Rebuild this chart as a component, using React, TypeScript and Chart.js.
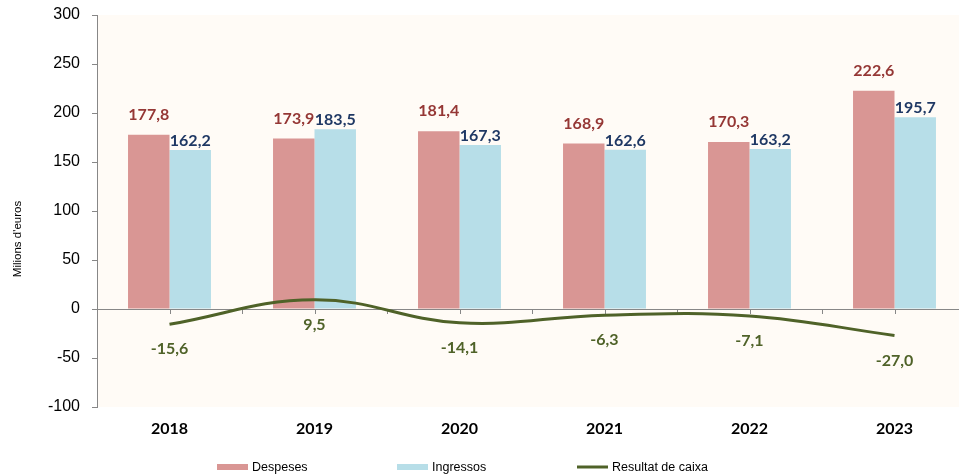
import React, { useEffect, useRef } from "react";
import { Chart, registerables } from "chart.js";

Chart.register(...registerables);

const categories = ["2018", "2019", "2020", "2021", "2022", "2023"];
const despeses = [177.8, 173.9, 181.4, 168.9, 170.3, 222.6];
const ingressos = [162.2, 183.5, 167.3, 162.6, 163.2, 195.7];
const resultat = [-15.6, 9.5, -14.1, -6.3, -7.1, -27.0];
const yMin = -100;
const yMax = 300;
const yStep = 50;
const yTitle = "Milions d'euros";
const seriesNames = ["Despeses", "Ingressos", "Resultat de caixa"];

const C_DESP = "#D99694";
const C_ING = "#B7DEE8";
const C_LINE = "#4F6228";
const L_DESP = "#953735";
const L_ING = "#1F3864";
const L_LINE = "#4F6228";
const AXIS = "#878787";
const LABEL_FONT = 'bold 16px Lato, "Liberation Sans", sans-serif';

const fmt = (v: number) => v.toFixed(1).replace(".", ",");

const bgPlugin = {
  id: "bgPlugin",
  beforeDraw(chart: any) {
    const { ctx, chartArea: a } = chart;
    ctx.save();
    ctx.fillStyle = "#FFFBF6";
    ctx.fillRect(a.left, a.top, a.right - a.left, a.bottom - a.top);
    ctx.restore();
  },
};

const zeroPlugin = {
  id: "zeroPlugin",
  beforeDatasetsDraw(chart: any) {
    const { ctx, chartArea: a, scales } = chart;
    const y0 = scales.y.getPixelForValue(0);
    const xs = scales.x;
    ctx.save();
    ctx.strokeStyle = AXIS;
    ctx.lineWidth = 1;
    ctx.beginPath();
    ctx.moveTo(a.left, Math.round(y0) + 0.5);
    ctx.lineTo(a.right, Math.round(y0) + 0.5);
    const n = categories.length;
    const w = (a.right - a.left) / n;
    for (let i = 0; i < n; i++) {
      const c = xs.getPixelForValue(i);
      for (const x of [c, c + w / 2]) {
        const px = Math.round(x) + 0.5;
        ctx.moveTo(px, Math.round(y0));
        ctx.lineTo(px, Math.round(y0) + 5);
      }
    }
    ctx.stroke();
    ctx.restore();
  },
};

const labelPlugin = {
  id: "labelPlugin",
  afterDatasetsDraw(chart: any) {
    const { ctx } = chart;
    ctx.save();
    ctx.font = LABEL_FONT;
    ctx.textAlign = "center";
    ctx.textBaseline = "middle";
    const specs = [
      { data: despeses, color: L_DESP, dy: -20 },
      { data: ingressos, color: L_ING, dy: -9 },
      { data: resultat, color: L_LINE, dy: 25 },
    ];
    specs.forEach((s, i) => {
      const meta = chart.getDatasetMeta(i);
      meta.data.forEach((el: any, j: number) => {
        ctx.fillStyle = s.color;
        ctx.fillText(fmt(s.data[j]), el.x, el.y + s.dy);
      });
    });
    ctx.restore();
  },
};

const legendPlugin = {
  id: "legendPlugin",
  afterDraw(chart: any) {
    const { ctx } = chart;
    const startX = 217;
    const step = 180;
    const cy = 467;
    ctx.save();
    ctx.font = '12.5px "Liberation Sans Narrow", "Liberation Sans", Arial, sans-serif';
    ctx.textBaseline = "middle";
    ctx.textAlign = "left";
    seriesNames.forEach((name, i) => {
      const x = startX + i * step;
      if (i < 2) {
        ctx.fillStyle = i === 0 ? C_DESP : C_ING;
        ctx.fillRect(x, cy - 3, 31, 6);
      } else {
        ctx.strokeStyle = C_LINE;
        ctx.lineWidth = 3;
        ctx.beginPath();
        ctx.moveTo(x, cy);
        ctx.lineTo(x + 31, cy);
        ctx.stroke();
      }
      ctx.fillStyle = "#000";
      ctx.fillText(name, x + 35, cy + 1);
    });
    // y axis title
    ctx.translate(18, 239);
    ctx.rotate(-Math.PI / 2);
    ctx.textAlign = "center";
    ctx.font = '11.5px "Liberation Sans", Arial, sans-serif';
    ctx.fillText(yTitle, 0, 0);
    ctx.restore();
  },
};

export default function App() {
  const ref = useRef<HTMLCanvasElement | null>(null);
  useEffect(() => {
    if (!ref.current) return;
    const chart = new Chart(ref.current, {
      type: "bar",
      data: {
        labels: categories,
        datasets: [
          {
            type: "bar",
            label: seriesNames[0],
            data: despeses,
            backgroundColor: C_DESP,
            barPercentage: 1,
            categoryPercentage: 0.572,
            order: 1,
          },
          {
            type: "bar",
            label: seriesNames[1],
            data: ingressos,
            backgroundColor: C_ING,
            barPercentage: 1,
            categoryPercentage: 0.572,
            order: 1,
          },
          {
            type: "line",
            label: seriesNames[2],
            data: resultat,
            borderColor: C_LINE,
            borderWidth: 3,
            pointRadius: 0,
            tension: 0.4,
            fill: false,
            order: 0,
          } as any,
        ],
      },
      options: {
        animation: false,
        responsive: true,
        maintainAspectRatio: false,
        layout: { padding: { top: 15, right: 3, left: 0, bottom: 0 } },
        plugins: {
          legend: { display: false },
          tooltip: { enabled: false },
        },
        scales: {
          x: {
            grid: { display: false, drawTicks: false },
            border: { display: false },
            ticks: {
              font: { family: 'Lato, "Liberation Sans", sans-serif', size: 16, weight: "bold" },
              color: "#000",
              padding: 12,
            },
            afterFit: (s: any) => {
              s.height = 67;
            },
          },
          y: {
            min: yMin,
            max: yMax,
            ticks: {
              stepSize: yStep,
              font: { family: '"Liberation Sans", Arial, sans-serif', size: 16 },
              color: "#000",
              padding: 12,
            },
            grid: {
              drawOnChartArea: false,
              drawTicks: true,
              tickLength: 5,
              color: AXIS,
            },
            border: { display: true, color: AXIS, width: 1 },
            afterFit: (s: any) => {
              s.width = 97;
              s.paddingTop = 0;
              s.paddingBottom = 0;
            },
          },
        },
      },
      plugins: [bgPlugin, zeroPlugin, labelPlugin, legendPlugin],
    });
    return () => chart.destroy();
  }, []);

  return (
    <div
      style={{
        position: "fixed",
        left: 0,
        top: 0,
        width: 959,
        height: 474,
        overflow: "hidden",
        background: "#fff",
      }}
    >
      <div style={{ position: "relative", width: 970, height: 474 }}>
        <canvas ref={ref} />
      </div>
    </div>
  );
}
